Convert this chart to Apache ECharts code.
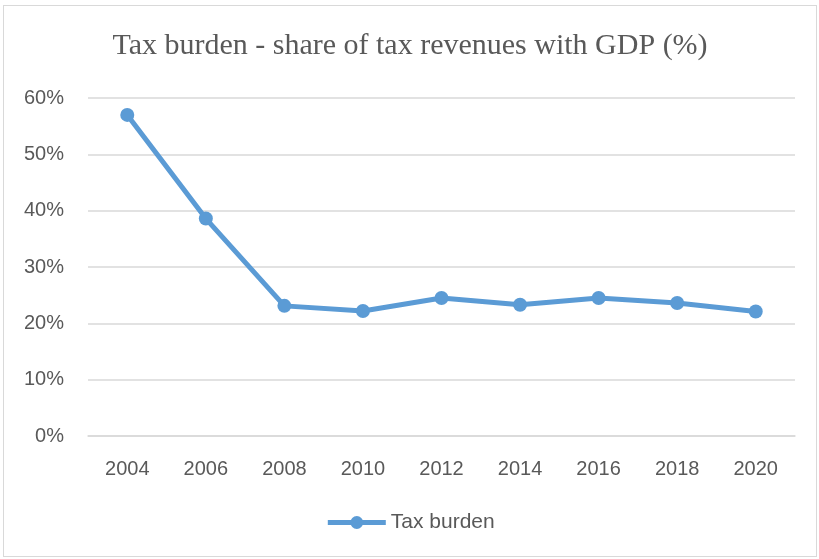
<!DOCTYPE html>
<html>
<head>
    <meta charset="utf-8">
    <title>Tax burden</title>
    <style>
        body { margin: 0; background: #fff; }
        #chart1 { position: absolute; left: 3px; top: 5px; width: 814px; height: 552px;
                  border: 1px solid #d9d9d9; box-sizing: border-box; }
    </style>
</head>
<body>
<div id="chart1"></div>
<script src="https://cdn.jsdelivr.net/npm/echarts@6/dist/echarts.min.js"></script>
<script type="text/javascript">
    var years = ['2004', '2006', '2008', '2010', '2012', '2014', '2016', '2018', '2020'];
    var taxBurden = [57.0, 38.6, 23.1, 22.2, 24.5, 23.3, 24.5, 23.6, 22.1];

    var myChart1 = echarts.init(document.getElementById('chart1'));
    myChart1.setOption({
        animation: false,
        title: {
            text: 'Tax burden - share of tax revenues with GDP (%)',
            left: 'center',
            top: 20,
            textStyle: { fontFamily: 'Liberation Serif', fontSize: 30, fontWeight: 'normal', color: '#595959' }
        },
        legend: {
            data: ['Tax burden'],
            top: 501,
            left: 'center',
            itemWidth: 58,
            itemHeight: 16,
            itemGap: 4,
            lineStyle: { width: 5 },
            textStyle: { fontFamily: 'Liberation Sans', fontSize: 21, color: '#595959' }
        },
        grid: { left: 84, right: 21, top: 92, bottom: 120 },
        xAxis: {
            type: 'category',
            data: years,
            boundaryGap: true,
            axisLine: { lineStyle: { color: '#d9d9d9', width: 1.5 } },
            axisTick: { show: false },
            axisLabel: { fontFamily: 'Liberation Sans', fontSize: 20, color: '#595959', margin: 23 }
        },
        yAxis: {
            type: 'value',
            min: 0,
            max: 60,
            interval: 10,
            axisLine: { show: false },
            axisTick: { show: false },
            splitLine: { lineStyle: { color: '#d9d9d9', width: 1.5 } },
            axisLabel: { fontFamily: 'Liberation Sans', fontSize: 20, color: '#595959', margin: 24,
                         formatter: '{value}%' }
        },
        series: [{
            name: 'Tax burden',
            type: 'line',
            data: taxBurden,
            symbol: 'circle',
            symbolSize: 14,
            lineStyle: { color: '#5b9bd5', width: 5 },
            itemStyle: { color: '#5b9bd5' }
        }]
    });
</script>
</body>
</html>
